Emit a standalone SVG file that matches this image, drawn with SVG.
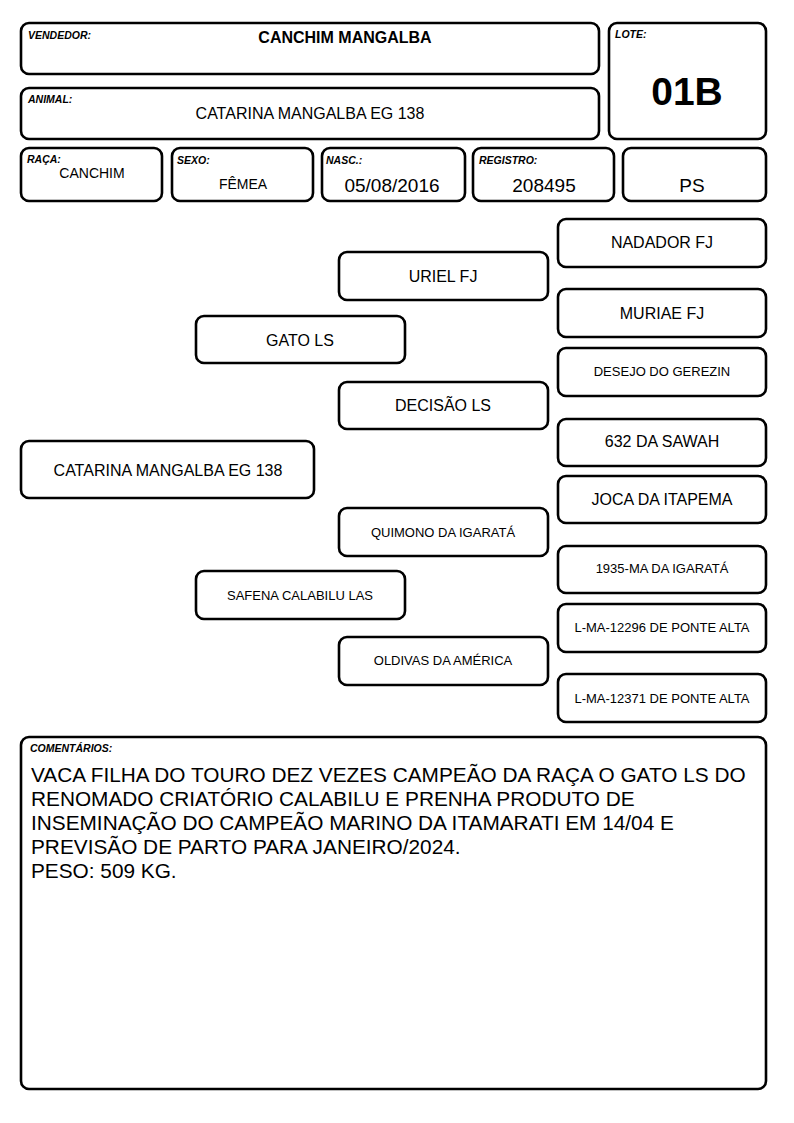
<svg xmlns="http://www.w3.org/2000/svg" width="794" height="1123" viewBox="0 0 794 1123">
<style>
.box{fill:#fff;stroke:#000;stroke-width:2.6}
.lbl{font-family:"Liberation Sans",Arial,sans-serif;font-size:10.5px;font-weight:bold;font-style:italic;fill:#000}
.t{font-family:"Liberation Sans",Arial,sans-serif;fill:#000;text-anchor:middle}
.f16{font-size:16px}
.f13{font-size:13px}
.f14{font-size:14px}
.f18{font-size:19px}
.cm{font-family:"Liberation Sans",Arial,sans-serif;font-size:20.8px;fill:#000}
</style>
<rect width="794" height="1123" fill="#fff"/>
<g id="vendedor">
<rect class="box" x="21" y="23" width="578" height="51" rx="8"/>
<text class="lbl" x="28" y="39">VENDEDOR:</text>
<text class="t f16" x="345" y="43" font-weight="bold">CANCHIM MANGALBA</text>
</g>
<g id="lote">
<rect class="box" x="609" y="23" width="157" height="116" rx="8"/>
<text class="lbl" x="615" y="38">LOTE:</text>
<text class="t" x="687" y="105" font-size="39" font-weight="bold">01B</text>
</g>
<g id="animal">
<rect class="box" x="21" y="88" width="578" height="51" rx="8"/>
<text class="lbl" x="28" y="103">ANIMAL:</text>
<text class="t f16" x="310" y="119">CATARINA MANGALBA EG 138</text>
</g>
<g id="raca">
<rect class="box" x="21" y="148" width="141" height="53" rx="8"/>
<text class="lbl" x="27" y="163">RAÇA:</text>
<text class="t f14" x="92" y="178">CANCHIM</text>
</g>
<g id="sexo">
<rect class="box" x="172" y="148" width="141" height="53" rx="8"/>
<text class="lbl" x="177" y="164">SEXO:</text>
<text class="t f14" x="243" y="189">FÊMEA</text>
</g>
<g id="nasc">
<rect class="box" x="322" y="148" width="143" height="53" rx="8"/>
<text class="lbl" x="326" y="164">NASC.:</text>
<text class="t f18" x="392" y="192">05/08/2016</text>
</g>
<g id="registro">
<rect class="box" x="473" y="148" width="141" height="53" rx="8"/>
<text class="lbl" x="479" y="164">REGISTRO:</text>
<text class="t f18" x="544" y="192">208495</text>
</g>
<g id="ps">
<rect class="box" x="623" y="148" width="143" height="53" rx="8"/>
<text class="t f18" x="692" y="192">PS</text>
</g>
<g id="connectors"></g>
<g id="n-catarina">
<rect class="box" x="21" y="441" width="293" height="57" rx="8"/>
<text class="t f16" x="168" y="476">CATARINA MANGALBA EG 138</text>
</g>
<g id="n-gato">
<rect class="box" x="196" y="316" width="209" height="47" rx="8"/>
<text class="t f16" x="300" y="346">GATO LS</text>
</g>
<g id="n-safena">
<rect class="box" x="196" y="571" width="209" height="48" rx="8"/>
<text class="t f13" x="300" y="600">SAFENA CALABILU LAS</text>
</g>
<g id="n-uriel">
<rect class="box" x="339" y="252" width="209" height="48" rx="8"/>
<text class="t f16" x="443" y="282">URIEL FJ</text>
</g>
<g id="n-decisao">
<rect class="box" x="339" y="382" width="209" height="47" rx="8"/>
<text class="t f16" x="443" y="411">DECISÃO LS</text>
</g>
<g id="n-quimono">
<rect class="box" x="339" y="508" width="209" height="48" rx="8"/>
<text class="t f13" x="443" y="537">QUIMONO DA IGARATÁ</text>
</g>
<g id="n-oldivas">
<rect class="box" x="339" y="637" width="209" height="48" rx="8"/>
<text class="t f13" x="443" y="665">OLDIVAS DA AMÉRICA</text>
</g>
<g id="n-nadador">
<rect class="box" x="558" y="219" width="208" height="48" rx="8"/>
<text class="t f16" x="662" y="248">NADADOR FJ</text>
</g>
<g id="n-muriae">
<rect class="box" x="558" y="289" width="208" height="48" rx="8"/>
<text class="t f16" x="662" y="319">MURIAE FJ</text>
</g>
<g id="n-desejo">
<rect class="box" x="558" y="348" width="208" height="48" rx="8"/>
<text class="t f13" x="662" y="376">DESEJO DO GEREZIN</text>
</g>
<g id="n-632">
<rect class="box" x="558" y="419" width="208" height="47" rx="8"/>
<text class="t f16" x="662" y="447">632 DA SAWAH</text>
</g>
<g id="n-joca">
<rect class="box" x="558" y="476" width="208" height="47" rx="8"/>
<text class="t f16" x="662" y="505">JOCA DA ITAPEMA</text>
</g>
<g id="n-1935">
<rect class="box" x="558" y="546" width="208" height="47" rx="8"/>
<text class="t f13" x="662" y="573">1935-MA DA IGARATÁ</text>
</g>
<g id="n-lma12296">
<rect class="box" x="558" y="604" width="208" height="48" rx="8"/>
<text class="t f13" x="662" y="632">L-MA-12296 DE PONTE ALTA</text>
</g>
<g id="n-lma12371">
<rect class="box" x="558" y="674" width="208" height="48" rx="8"/>
<text class="t f13" x="662" y="703">L-MA-12371 DE PONTE ALTA</text>
</g>
<g id="comentarios">
<rect class="box" x="21" y="737" width="745" height="352" rx="8"/>
<text class="lbl" x="30" y="752" font-size="11">COMENTÁRIOS:</text>
<text class="cm" x="31" y="782">VACA FILHA DO TOURO DEZ VEZES CAMPEÃO DA RAÇA O GATO LS DO</text>
<text class="cm" x="31" y="806">RENOMADO CRIATÓRIO CALABILU E PRENHA PRODUTO DE</text>
<text class="cm" x="31" y="830">INSEMINAÇÃO DO CAMPEÃO MARINO DA ITAMARATI EM 14/04 E</text>
<text class="cm" x="31" y="854">PREVISÃO DE PARTO PARA JANEIRO/2024.</text>
<text class="cm" x="31" y="878">PESO: 509 KG.</text>
</g>
</svg>
